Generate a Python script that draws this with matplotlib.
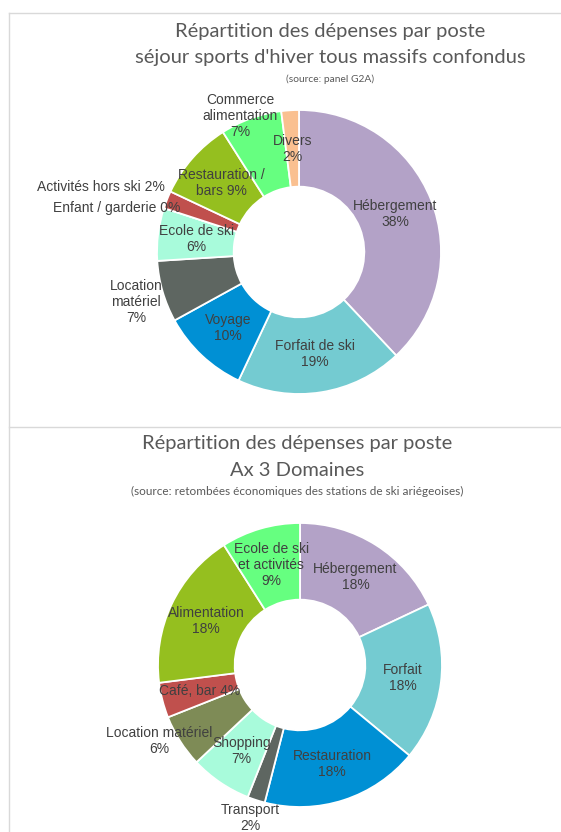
import matplotlib
matplotlib.use('Agg')
import matplotlib.pyplot as plt
import numpy as np
from matplotlib.lines import Line2D

W, H = 561, 832

# chart 1 : séjour sports d'hiver tous massifs confondus
top_names = ['Hébergement', 'Forfait de ski', 'Voyage', 'Location\nmatériel', 'Ecole de ski',
             'Enfant / garderie', 'Activités hors ski', 'Restauration /\nbars', 'Commerce\nalimentation', 'Divers']
top_values = [38, 19, 10, 7, 6, 0, 2, 9, 7, 2]
top_seps = ['\n', '\n', '\n', '\n', '\n', ' ', ' ', ' ', '\n', '\n']
top_colors = ['#B3A2C7', '#74CBD1', '#0090D4', '#5E6661', '#A8FBDB',
              '#4F81BD', '#C0504D', '#95BF1F', '#66FF80', '#FAC090']

# chart 2 : Ax 3 Domaines
bot_names = ['Hébergement', 'Forfait', 'Restauration', 'Transport', 'Shopping',
             'Location matériel', 'Café, bar', 'Alimentation', 'Ecole de ski\net activités']
bot_values = [18, 18, 18, 2, 7, 6, 4, 18, 9]
bot_seps = ['\n', '\n', '\n', '\n', '\n', '\n', ' ', '\n', '\n']
bot_colors = ['#B3A2C7', '#74CBD1', '#0090D4', '#5E6661', '#A8FBDB',
              '#7E8B56', '#C0504D', '#95BF1F', '#66FF80']

TXT = '#404040'
TITLE = '#595959'
BORDER = '#D9D9D9'
R_PX = 142  # outer radius in pixels


def fig_line(fig, x0, y0, x1, y1):
    fig.add_artist(Line2D([x0 / W, x1 / W], [1 - y0 / H, 1 - y1 / H], transform=fig.transFigure,
                          color=BORDER, lw=1.0))


def donut(fig, cx, cy, values, names, seps, colors, overrides):
    half = 200
    ax = fig.add_axes([(cx - half) / W, 1 - (cy + half) / H, 2 * half / W, 2 * half / H])
    wedges, _ = ax.pie(values, colors=colors, startangle=90, counterclock=False, radius=1,
                       wedgeprops=dict(width=0.54, edgecolor='white', linewidth=1.3))
    lim = half / R_PX
    ax.set_xlim(-lim, lim)
    ax.set_ylim(-lim, lim)
    ax.set_aspect('equal')
    ax.axis('off')
    for i, w in enumerate(wedges):
        mid = (w.theta1 + w.theta2) / 2
        r, shift, ha = overrides.get(i, (0.73, 0, 'center'))
        a = np.radians(mid - shift)
        txt = names[i] + seps[i] + '%d%%' % values[i]
        ax.text(r * np.cos(a), r * np.sin(a), txt, ha=ha, va='center', color=TXT,
                fontsize=10, family='Liberation Sans', linespacing=1.18, clip_on=False)


fig = plt.figure(figsize=(W / 100, H / 100), dpi=100)
fig.patch.set_facecolor('white')

# frames
fig_line(fig, 8.5, 12.5, W, 12.5)
fig_line(fig, 8.5, 426.5, W, 426.5)
fig_line(fig, 8.5, 12.5, 8.5, H)

# titles
tfont = dict(family='Lato', color=TITLE, ha='center', va='center')
fig.text(330 / W, 1 - 31 / H, 'Répartition des dépenses par poste', fontsize=14.5, **tfont)
fig.text(330 / W, 1 - 57 / H, "séjour sports d'hiver tous massifs confondus", fontsize=14.5, **tfont)
fig.text(330 / W, 1 - 79 / H, '(source: panel G2A)', fontsize=7.4, **tfont)

fig.text(297 / W, 1 - 443 / H, 'Répartition des dépenses par poste', fontsize=14.5, **tfont)
fig.text(297 / W, 1 - 470 / H, 'Ax 3 Domaines', fontsize=14.5, **tfont)
fig.text(297 / W, 1 - 491 / H, '(source: retombées économiques des stations de ski ariégeoises)',
         fontsize=8.5, **tfont)

top_over = {3: (1.20, -1, 'center'), 5: (0.89, 2.5, 'right'), 6: (1.05, 4.4, 'right'),
            8: (1.04, -3.6, 'center')}
bot_over = {3: (1.13, 0, 'center'), 5: (1.13, 4, 'center')}

donut(fig, 299, 252, top_values, top_names, top_seps, top_colors, top_over)
donut(fig, 300, 665, bot_values, bot_names, bot_seps, bot_colors, bot_over)

fig.savefig('out.png', dpi=100)
